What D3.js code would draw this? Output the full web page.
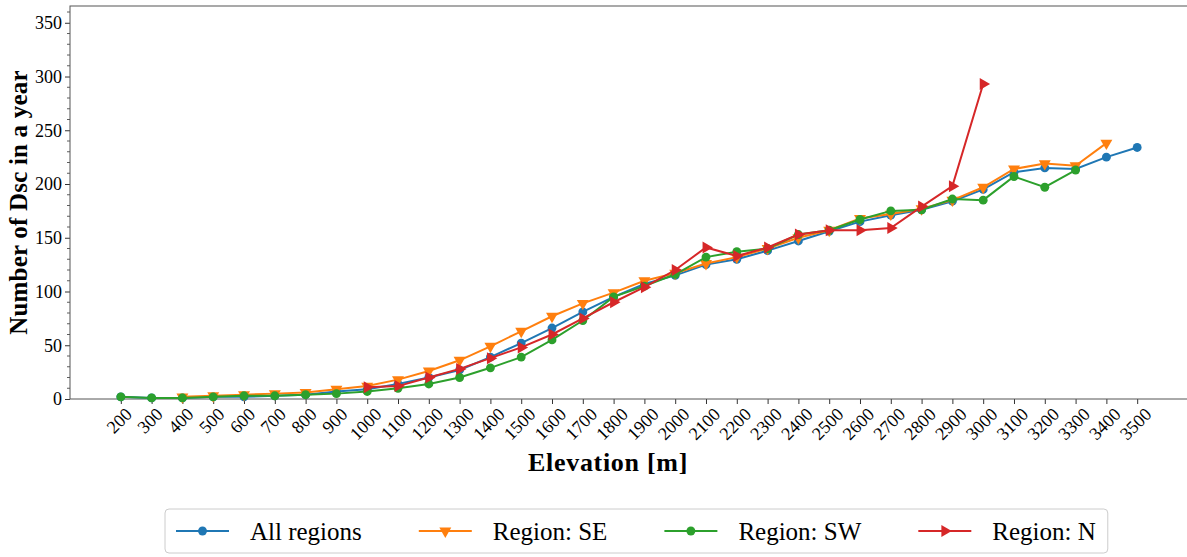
<!DOCTYPE html>
<html>
<head>
<meta charset="utf-8">
<script src="https://cdn.jsdelivr.net/npm/d3@7"></script>
<style>
  body { margin: 0; background: #fff; }
  text { font-family: "Liberation Serif", serif; fill: #000; }
</style>
</head>
<body>
<svg id="chart" width="1187" height="557"></svg>
<script>
// elevations (x categories)
var elevations = [200, 300, 400, 500, 600, 700, 800, 900, 1000, 1100, 1200, 1300, 1400, 1500, 1600, 1700, 1800,
  1900, 2000, 2100, 2200, 2300, 2400, 2500, 2600, 2700, 2800, 2900, 3000, 3100, 3200, 3300, 3400, 3500];

// series values, null = no data at that elevation
var allRegions = [2, 1, 1, 2, 2, 3, 4, 7, 9, 14, 20, 27, 39, 52, 66, 81, 95,
  107, 115, 125, 130, 138, 147, 156, 165, 171, 176, 184, 195, 211, 215, 214, 225, 234];
var regionSE = [null, null, 2, 3, 4, 5, 6, 9, 12, 18, 26, 36, 49, 63, 77, 89, 99,
  110, 117, 126, 132, 140, 150, 157, 168, 172, 177, 185, 197, 214, 219, 217, 238, null];
var regionSW = [2, 1, 1, 2, 3, 3, 4, 5, 7, 10, 14, 20, 29, 39, 55, 73, 95,
  105, 116, 132, 137, 140, 153, 157, 167, 175, 176, 186, 185, 207, 197, 213, null, null];
var regionN = [null, null, null, null, null, null, null, null, 11, 12, 20, 28, 38, 48, 60, 75, 90,
  104, 120, 141, 133, 141, 153, 157, 157, 159, 179, 198, 293, null, null, null, null, null];

var yTicks = [0, 50, 100, 150, 200, 250, 300, 350];

var series = [
  { name: "All regions", values: allRegions, color: "#1f77b4", marker: "circle" },
  { name: "Region: SE", values: regionSE, color: "#ff7f0e", marker: "down" },
  { name: "Region: SW", values: regionSW, color: "#2ca02c", marker: "circle" },
  { name: "Region: N", values: regionN, color: "#d62728", marker: "right" }
];

var svg = d3.select("#chart"),
  plotL = 70, plotR = 1188, plotT = 6, plotB = 399;

var x = d3.scaleLinear().domain([-1.65, elevations.length - 1 + 1.65]).range([plotL, plotR]);
var y = d3.scaleLinear().domain([0, 365.6]).range([plotB, plotT]);

svg.append("rect").attr("width", 1187).attr("height", 557).attr("fill", "#fff");

// y minor ticks
svg.append("g")
  .selectAll("line")
  .data(d3.range(0, 361, 10).filter((v) => v % 50 !== 0))
  .enter()
  .append("line")
  .attr("x1", plotL - 3).attr("x2", plotL)
  .attr("y1", (d) => y(d)).attr("y2", (d) => y(d))
  .attr("stroke", "#333").attr("stroke-width", 0.8);

// y axis
var yAxis = svg.append("g")
  .attr("transform", `translate(${plotL},0)`)
  .call(d3.axisLeft(y).tickValues(yTicks).tickSize(5).tickPadding(3));
yAxis.select(".domain").remove();
yAxis.selectAll(".tick line").attr("stroke", "#333");
yAxis.selectAll(".tick text").style("font-size", "18px").style("font-family", "Liberation Serif");

// x axis
var xAxis = svg.append("g")
  .attr("transform", `translate(0,${plotB})`)
  .call(d3.axisBottom(x).tickValues(d3.range(elevations.length)).tickFormat((i) => elevations[i]).tickSize(5));
xAxis.select(".domain").remove();
xAxis.selectAll(".tick line").attr("stroke", "#333");
xAxis.selectAll(".tick text")
  .style("font-size", "18px")
  .style("font-family", "Liberation Serif")
  .attr("text-anchor", "middle")
  .attr("dominant-baseline", "central")
  .attr("y", 0)
  .attr("dy", 0)
  .attr("transform", function () {
    var w = this.getComputedTextLength(), h = 12;
    var ext = (w + h) / Math.SQRT2;
    return `translate(-2,${8 + ext / 2}) rotate(-45)`;
  });

// frame
svg.append("rect")
  .attr("x", plotL).attr("y", plotT)
  .attr("width", plotR - plotL).attr("height", plotB - plotT)
  .attr("fill", "none").attr("stroke", "#555").attr("stroke-width", 1);

var line = d3.line()
  .defined((d) => d != null)
  .x((d, i) => x(i))
  .y((d) => y(d));

function marker(sel, type, color) {
  if (type === "circle") {
    sel.append("path").attr("d", d3.symbol().type(d3.symbolCircle).size(62)).attr("fill", color);
  } else {
    sel.append("path")
      .attr("d", d3.symbol().type(d3.symbolTriangle).size(62))
      .attr("transform", type === "down" ? "rotate(180)" : "rotate(90)")
      .attr("fill", color);
  }
}

series.forEach((s) => {
  svg.append("path")
    .attr("d", line(s.values))
    .attr("fill", "none")
    .attr("stroke", s.color)
    .attr("stroke-width", 2);
  s.values.forEach((v, i) => {
    if (v == null) return;
    var g = svg.append("g").attr("transform", `translate(${x(i)},${y(v)})`);
    marker(g, s.marker, s.color);
  });
});

// axis titles
svg.append("text")
  .attr("transform", `translate(27,${(plotT + plotB) / 2}) rotate(-90)`)
  .attr("text-anchor", "middle")
  .style("font-size", "25px")
  .style("font-weight", "bold")
  .style("letter-spacing", "0.2px")
  .text("Number of Dsc in a year");

svg.append("text")
  .attr("x", 608)
  .attr("y", 471)
  .attr("text-anchor", "middle")
  .style("font-size", "26px")
  .style("font-weight", "bold")
  .style("letter-spacing", "0.7px")
  .text("Elevation [m]");

// legend
var legend = svg.append("g");
var box = legend.append("rect")
  .attr("y", 509).attr("height", 44).attr("rx", 4)
  .attr("fill", "#fff").attr("stroke", "#ccc").attr("stroke-width", 1);

var lx = 176, ly = 531;
series.forEach((s) => {
  var item = legend.append("g");
  item.append("line")
    .attr("x1", lx).attr("x2", lx + 53).attr("y1", ly).attr("y2", ly)
    .attr("stroke", s.color).attr("stroke-width", 2);
  marker(item.append("g").attr("transform", `translate(${lx + 26.5},${ly})`), s.marker, s.color);
  var t = item.append("text")
    .attr("x", lx + 74).attr("y", ly).attr("dy", "0.35em")
    .style("font-size", "25px")
    .text(s.name);
  lx = lx + 74 + t.node().getComputedTextLength() + 57;
});
box.attr("x", 165).attr("width", lx - 57 + 12 - 165);
</script>
</body>
</html>
